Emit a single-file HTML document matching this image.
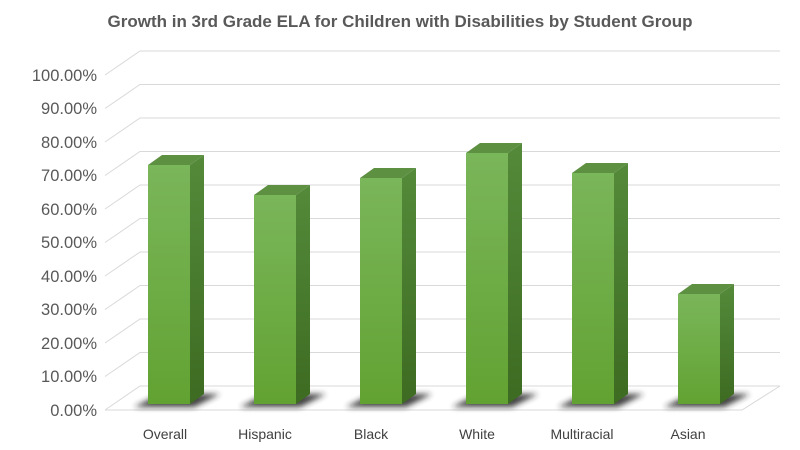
<!DOCTYPE html>
<html><head><meta charset="utf-8"><style>
body{margin:0;background:#fff;}
svg{display:block;font-family:"Liberation Sans",sans-serif;}
</style></head><body>
<svg width="800" height="450" viewBox="0 0 800 450">
<defs>
<linearGradient id="f" x1="0" y1="0" x2="0" y2="1"><stop offset="0" stop-color="#7ab65a"/><stop offset="1" stop-color="#62a232"/></linearGradient>
<linearGradient id="s" x1="0" y1="0" x2="0" y2="1"><stop offset="0" stop-color="#548a3a"/><stop offset="1" stop-color="#3d6b21"/></linearGradient>
<filter id="b" x="-50%" y="-50%" width="200%" height="200%"><feGaussianBlur stdDeviation="3"/></filter>
</defs>
<text x="400" y="27" text-anchor="middle" font-size="17" font-weight="bold" fill="#595959">Growth in 3rd Grade ELA for Children with Disabilities by Student Group</text>
<g stroke="#d9d9d9" stroke-width="1" fill="none">
<path d="M105 410L140 386H780M105 376.5L140 352.5H780M105 343L140 319H780M105 309.5L140 285.5H780M105 276L140 252H780M105 242.5L140 218.5H780M105 209L140 185H780M105 175.5L140 151.5H780M105 142L140 118H780M105 108.5L140 84.5H780M105 75L140 51H780"/>
<path d="M105 410H742L780 386"/>
</g>
<g font-size="16.5" fill="#595959" text-anchor="end">
<text x="97" y="416">0.00%</text><text x="97" y="382">10.00%</text><text x="97" y="349">20.00%</text><text x="97" y="315">30.00%</text><text x="97" y="282">40.00%</text><text x="97" y="248">50.00%</text><text x="97" y="215">60.00%</text><text x="97" y="181">70.00%</text><text x="97" y="148">80.00%</text><text x="97" y="114">90.00%</text><text x="97" y="81">100.00%</text>
</g>
<g font-size="14" fill="#404040" text-anchor="middle">
<text x="165" y="439">Overall</text><text x="265" y="439">Hispanic</text><text x="371" y="439">Black</text><text x="477" y="439">White</text><text x="582" y="439">Multiracial</text><text x="688" y="439">Asian</text>
</g>
<g fill="#222" opacity="0.85" filter="url(#b)">
<path d="M134 407L194 407L220 394L160 394Z"/>
<path d="M240 407L300 407L326 394L266 394Z"/>
<path d="M346 407L406 407L432 394L372 394Z"/>
<path d="M452 407L512 407L538 394L478 394Z"/>
<path d="M558 407L618 407L644 394L584 394Z"/>
<path d="M664 407L724 407L750 394L690 394Z"/>
</g>
<g fill="url(#f)">
<rect x="148" y="165" width="42" height="239"/>
<rect x="254" y="195" width="42" height="209"/>
<rect x="360" y="178" width="42" height="226"/>
<rect x="466" y="153" width="42" height="251"/>
<rect x="572" y="173" width="42" height="231"/>
<rect x="678" y="294" width="42" height="110"/>
</g>
<g fill="url(#s)">
<path d="M190 165L204 155L204 394L190 404Z"/>
<path d="M296 195L310 185L310 394L296 404Z"/>
<path d="M402 178L416 168L416 394L402 404Z"/>
<path d="M508 153L522 143L522 394L508 404Z"/>
<path d="M614 173L628 163L628 394L614 404Z"/>
<path d="M720 294L734 284L734 394L720 404Z"/>
</g>
<g fill="#5e9042">
<path d="M148 165L162 155L204 155L190 165Z"/>
<path d="M254 195L268 185L310 185L296 195Z"/>
<path d="M360 178L374 168L416 168L402 178Z"/>
<path d="M466 153L480 143L522 143L508 153Z"/>
<path d="M572 173L586 163L628 163L614 173Z"/>
<path d="M678 294L692 284L734 284L720 294Z"/>
</g>
</svg>
</body></html>
